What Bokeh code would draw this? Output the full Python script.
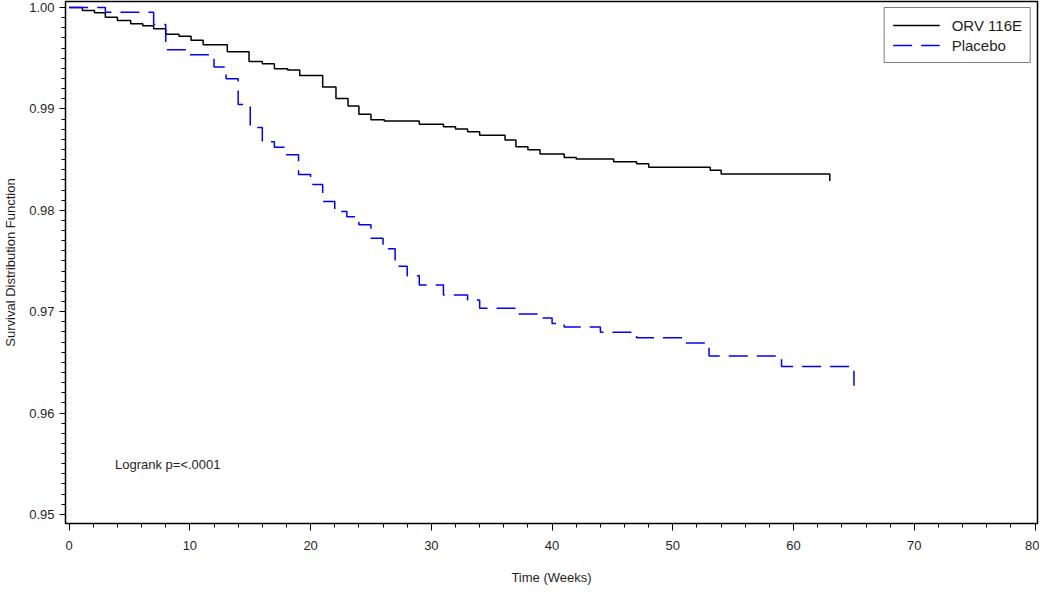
from bokeh.plotting import figure
from bokeh.models import FixedTicker, Label, Legend, LegendItem, PrintfTickFormatter
from bokeh.embed import file_html
from bokeh.resources import INLINE

# ---- data ----
orv_weeks = [0, 1.1, 2.1, 3.0, 4.0, 5.1, 6.1, 7.0, 8.0, 9.1, 10.1, 11.1, 13.1, 14.9, 16.0,
             17.0, 18.1, 19.1, 21.0, 22.1, 23.1, 24.0, 25.0, 26.1, 29.0, 31.0, 32.0, 33.0,
             34.0, 36.1, 37.0, 38.0, 39.0, 41.0, 42.0, 45.1, 47.0, 48.0, 53.1, 54.0, 63.0]
orv_surv = [1.0, 0.99971, 0.99948, 0.99905, 0.99873, 0.99841, 0.99821, 0.99790, 0.99738,
            0.99717, 0.99678, 0.99634, 0.99565, 0.99468, 0.99446, 0.99397, 0.99385, 0.99329,
            0.99216, 0.99102, 0.99028, 0.98948, 0.98894, 0.98880, 0.98848, 0.98825, 0.98802,
            0.98776, 0.98740, 0.98694, 0.98626, 0.98597, 0.98555, 0.98522, 0.98506, 0.98479,
            0.98460, 0.98425, 0.98396, 0.98359, 0.98288]

placebo_weeks = [0, 3, 7, 8, 10, 12, 13, 14, 15, 16, 17, 18, 19, 20, 21, 22, 23, 24, 25, 26,
                 27, 28, 29, 31, 33, 34, 37, 39, 40, 41, 44, 47, 51, 53, 59, 65]
placebo_surv = [1.0, 0.99954, 0.99834, 0.99583, 0.99534, 0.99414, 0.99297, 0.99043, 0.98818,
                0.98677, 0.98623, 0.98548, 0.98353, 0.98255, 0.98086, 0.97988, 0.97937,
                0.97858, 0.97725, 0.97620, 0.97448, 0.97354, 0.97263, 0.97165, 0.97116,
                0.97034, 0.96976, 0.96937, 0.96882, 0.96849, 0.96797, 0.96743, 0.96692,
                0.96563, 0.96458, 0.96270]

x_ticks = [0, 10, 20, 30, 40, 50, 60, 70, 80]
x_minor = [v for v in range(0, 81, 2)]
y_ticks = [0.95, 0.96, 0.97, 0.98, 0.99, 1.00]
y_minor = [round(0.95 + i * 0.001, 3) for i in range(51)]

series_names = ["ORV 116E", "Placebo"]
annotation = "Logrank p=<.0001"

FONT = "Liberation Sans"
TXT = "#1f1f1f"

p = figure(frame_width=972, frame_height=522, x_range=(-0.3, 80.2), y_range=(0.9491, 1.0006),
           output_backend="svg", toolbar_location=None,
           min_border_left=60, min_border_right=2, min_border_top=1, min_border_bottom=60)

p.xgrid.visible = False
p.ygrid.visible = False
p.outline_line_color = "black"
p.outline_line_width = 1.5
p.background_fill_color = "white"
p.border_fill_color = "white"

# x axis
p.xaxis.ticker = FixedTicker(ticks=x_ticks, minor_ticks=x_minor)
p.xaxis.axis_label = "Time (Weeks)"
p.xaxis.axis_label_text_font = FONT
p.xaxis.axis_label_text_font_style = "normal"
p.xaxis.axis_label_text_font_size = "13px"
p.xaxis.axis_label_text_color = TXT
p.xaxis.axis_label_standoff = 17
p.xaxis.major_label_text_font = FONT
p.xaxis.major_label_text_font_size = "13px"
p.xaxis.major_label_text_color = TXT
p.xaxis.major_label_standoff = 10
p.xaxis.major_tick_out = 7
p.xaxis.major_tick_in = 0
p.xaxis.minor_tick_out = 4
p.xaxis.minor_tick_in = 0
p.xaxis.axis_line_color = "black"
p.xaxis.major_tick_line_color = "black"
p.xaxis.minor_tick_line_color = "black"

# y axis
p.yaxis.ticker = FixedTicker(ticks=y_ticks, minor_ticks=y_minor)
p.yaxis.formatter = PrintfTickFormatter(format="%.2f")
p.yaxis.axis_label = "Survival Distribution Function"
p.yaxis.axis_label_text_font = FONT
p.yaxis.axis_label_text_font_style = "normal"
p.yaxis.axis_label_text_font_size = "13px"
p.yaxis.axis_label_text_color = TXT
p.yaxis.axis_label_standoff = 8
p.yaxis.major_label_text_font = FONT
p.yaxis.major_label_text_font_size = "13px"
p.yaxis.major_label_text_color = TXT
p.yaxis.major_label_standoff = 5
p.yaxis.major_tick_out = 6
p.yaxis.major_tick_in = 0
p.yaxis.minor_tick_out = 4
p.yaxis.minor_tick_in = 0
p.yaxis.axis_line_color = "black"
p.yaxis.major_tick_line_color = "black"
p.yaxis.minor_tick_line_color = "black"

r1 = p.step(orv_weeks, orv_surv, mode="after", line_color="black", line_width=1.5)
r2 = p.step(placebo_weeks, placebo_surv, mode="after", line_color="#0000FF",
            line_width=1.5, line_dash="19 9")

legend = Legend(items=[LegendItem(label=series_names[0], renderers=[r1]),
                       LegendItem(label=series_names[1], renderers=[r2])],
                location="top_right")
legend.label_text_font = FONT
legend.label_text_font_size = "15px"
legend.label_text_color = TXT
legend.border_line_color = "black"
legend.border_line_width = 1.5
legend.background_fill_color = "white"
legend.background_fill_alpha = 1.0
legend.glyph_width = 47
legend.glyph_height = 18
legend.label_height = 18
legend.label_standoff = 12
legend.spacing = 2
legend.padding = 8
legend.margin = 6
p.add_layout(legend)

p.add_layout(Label(x=3.8, y=0.95488, text=annotation, text_font=FONT,
                   text_font_size="13px", text_color=TXT, text_baseline="middle"))

open("out.html", "w").write(file_html(p, INLINE))
